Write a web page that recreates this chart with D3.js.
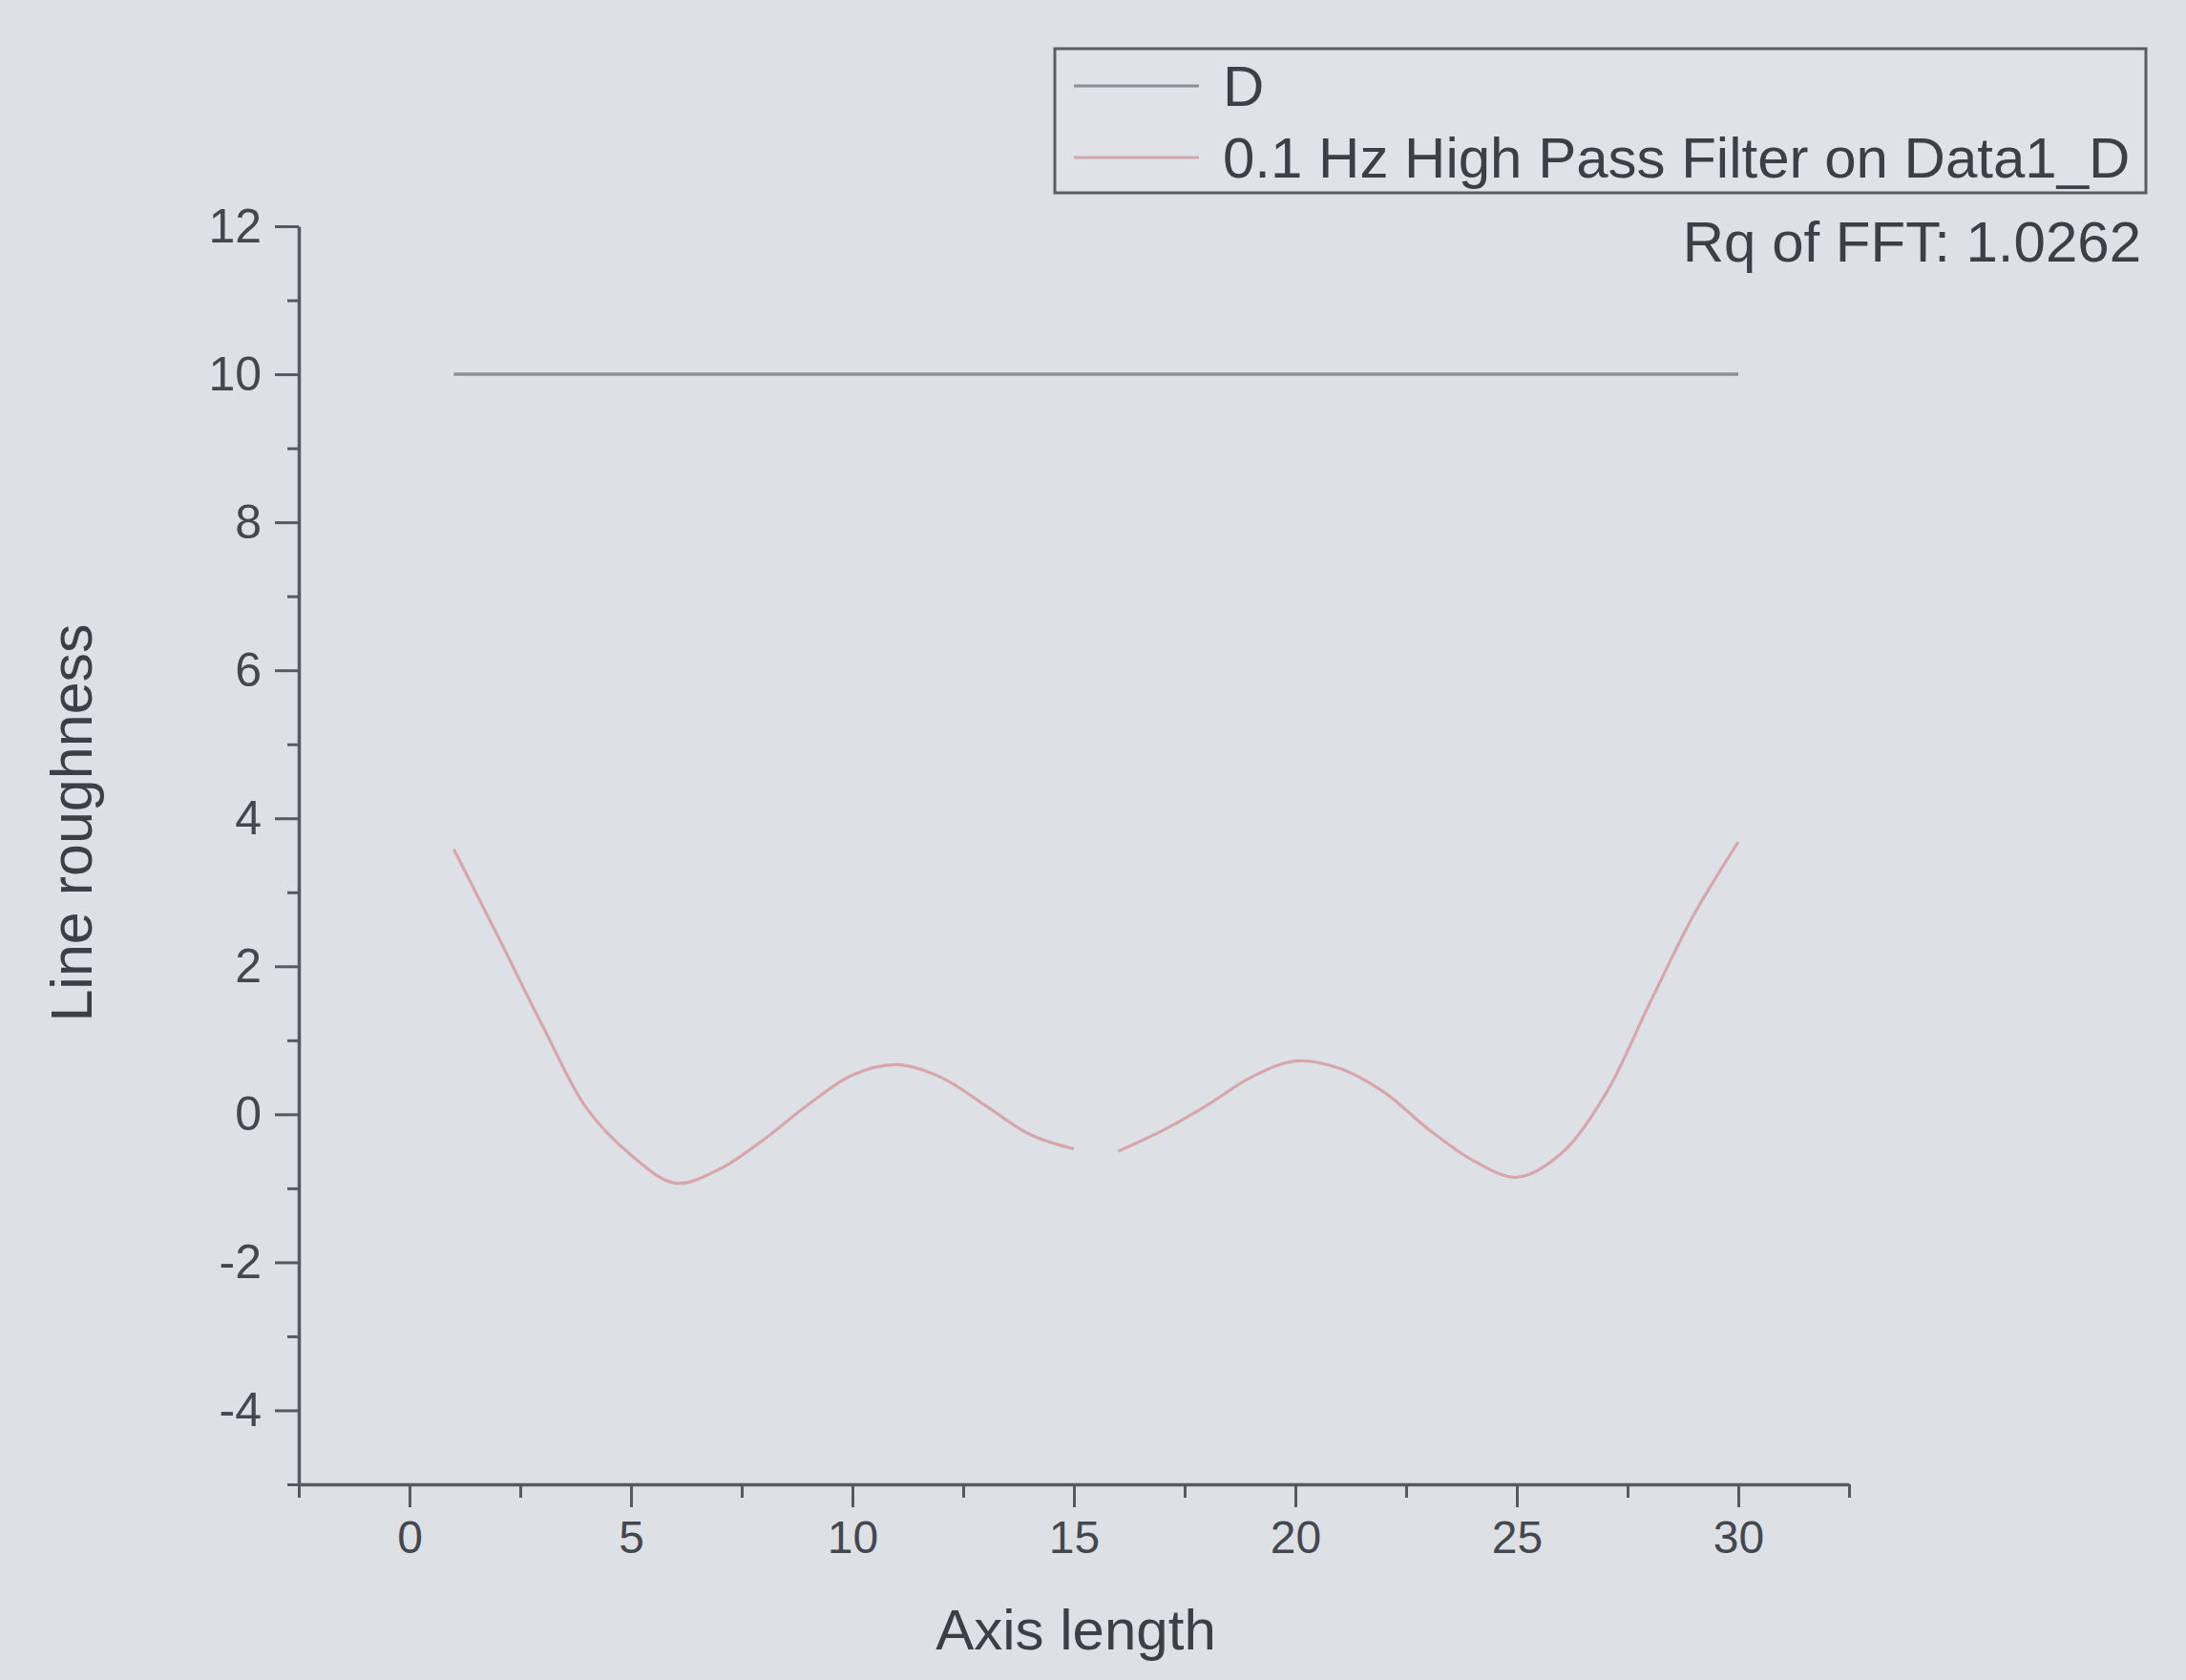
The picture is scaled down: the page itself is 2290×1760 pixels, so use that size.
<!DOCTYPE html>
<html>
<head>
<meta charset="utf-8">
<script src="https://cdn.jsdelivr.net/npm/d3@7"></script>
<style>
  html, body { margin: 0; padding: 0; background: #dde1e6; }
  svg { display: block; }
  text { font-family: "Liberation Sans", Arial, sans-serif; }
</style>
</head>
<body>
<script>
// ---- data ----
const xD = d3.range(1, 31);                       // 1..30
const valuesD = xD.map(() => 10);                 // D series (flat at 10)
const xFiltLeft = [1,2,3,4,5,6,7,8,9,10,11,12,13,14,15];
const valFiltLeft = [3.58,2.40,1.20,0.08,-0.55,-0.93,-0.74,-0.34,0.13,0.53,0.67,0.50,0.12,-0.27,-0.47];
const xFiltRight = [16,17,18,19,20,21,22,23,24,25,26,27,28,29,30];
const valFiltRight = [-0.50,-0.22,0.12,0.50,0.72,0.62,0.30,-0.20,-0.62,-0.85,-0.53,0.27,1.50,2.70,3.68];
const xMajorTicks = [0,5,10,15,20,25,30];
const xMinorTicks = [-2.5,2.5,7.5,12.5,17.5,22.5,27.5,32.5];
const yMajorTicks = [-4,-2,0,2,4,6,8,10,12];
const yMinorTicks = [-5,-3,-1,1,3,5,7,9,11];
const legendLabels = ["D", "0.1 Hz High Pass Filter on Data1_D"];
const noteText = "Rq of FFT: 1.0262";
const xTitle = "Axis length";
const yTitle = "Line roughness";

// ---- layout ----
const W = 2290, H = 1760;
const svg = d3.select("body").append("svg").attr("width", W).attr("height", H);
svg.append("rect").attr("width", W).attr("height", H).attr("fill", "#dde1e6");

const x = d3.scaleLinear().domain([-2.5, 32.5]).range([313, 1937]);
const y = d3.scaleLinear().domain([-5, 12]).range([1555, 237]);

const axisColor = "#555a61";
const textColor = "#44484e";
const fmt = d => String(d);

function styleAxis(g) {
  g.selectAll("path.domain").attr("stroke", axisColor).attr("stroke-width", 3.5);
  g.selectAll(".tick line").attr("stroke", axisColor).attr("stroke-width", 3);
  g.selectAll(".tick text").attr("fill", textColor)
    .style("font-family", "'Liberation Sans', Arial, sans-serif");
}

// Y axis
const gy = svg.append("g").attr("transform", `translate(${x(-2.5)},0)`)
  .call(d3.axisLeft(y).tickValues(yMajorTicks).tickSize(25).tickSizeOuter(0).tickPadding(14).tickFormat(fmt));
gy.selectAll(".tick text").attr("font-size", 50);
styleAxis(gy);
const gyMinor = svg.append("g").attr("transform", `translate(${x(-2.5)},0)`)
  .call(d3.axisLeft(y).tickValues(yMinorTicks).tickSize(12).tickSizeOuter(0).tickFormat(""));
gyMinor.select("path.domain").remove();
styleAxis(gyMinor);

// X axis
const gx = svg.append("g").attr("transform", `translate(0,${y(-5)})`)
  .call(d3.axisBottom(x).tickValues(xMajorTicks).tickSize(24).tickSizeOuter(0).tickPadding(14).tickFormat(fmt));
gx.selectAll(".tick text").attr("font-size", 48);
styleAxis(gx);
const gxMinor = svg.append("g").attr("transform", `translate(0,${y(-5)})`)
  .call(d3.axisBottom(x).tickValues(xMinorTicks).tickSize(14).tickSizeOuter(0).tickFormat(""));
gxMinor.select("path.domain").remove();
styleAxis(gxMinor);

// Lines
const line = d3.line().x(d => x(d[0])).y(d => y(d[1])).curve(d3.curveCatmullRom.alpha(0.5));
const dData = xD.map((v, i) => [v, valuesD[i]]);
svg.append("path").datum(dData).attr("d", line)
  .attr("fill", "none").attr("stroke", "#8b9096").attr("stroke-width", 3.5);

const redColor = "#d7a6ad";
[[xFiltLeft, valFiltLeft], [xFiltRight, valFiltRight]].forEach(([xs, vs]) => {
  svg.append("path").datum(xs.map((v, i) => [v, vs[i]])).attr("d", line)
    .attr("fill", "none").attr("stroke", redColor).attr("stroke-width", 3.2);
});

// Legend
const leg = svg.append("g");
leg.append("rect").attr("x", 1105).attr("y", 51).attr("width", 1143).attr("height", 151)
  .attr("fill", "#dfe3e8").attr("stroke", "#5a5e64").attr("stroke-width", 3);
const legColors = ["#8b9096", redColor];
const legY = [90, 165];
legendLabels.forEach((lab, i) => {
  leg.append("line").attr("x1", 1125).attr("x2", 1256).attr("y1", legY[i]).attr("y2", legY[i])
    .attr("stroke", legColors[i]).attr("stroke-width", 3);
  leg.append("text").attr("x", 1281).attr("y", legY[i] + 21).attr("font-size", 60)
    .attr("fill", "#3c4046").text(lab);
});
svg.append("text").attr("x", 2243).attr("y", 274).attr("text-anchor", "end")
  .attr("font-size", 60).attr("fill", "#3c4046").text(noteText);

// Axis titles
svg.append("text").attr("x", 1127).attr("y", 1728).attr("text-anchor", "middle")
  .attr("font-size", 60).attr("fill", "#3c4046").text(xTitle);
svg.append("text").attr("transform", "translate(96,862) rotate(-90)").attr("text-anchor", "middle")
  .attr("font-size", 61).attr("fill", "#3c4046").text(yTitle);
</script>
</body>
</html>
